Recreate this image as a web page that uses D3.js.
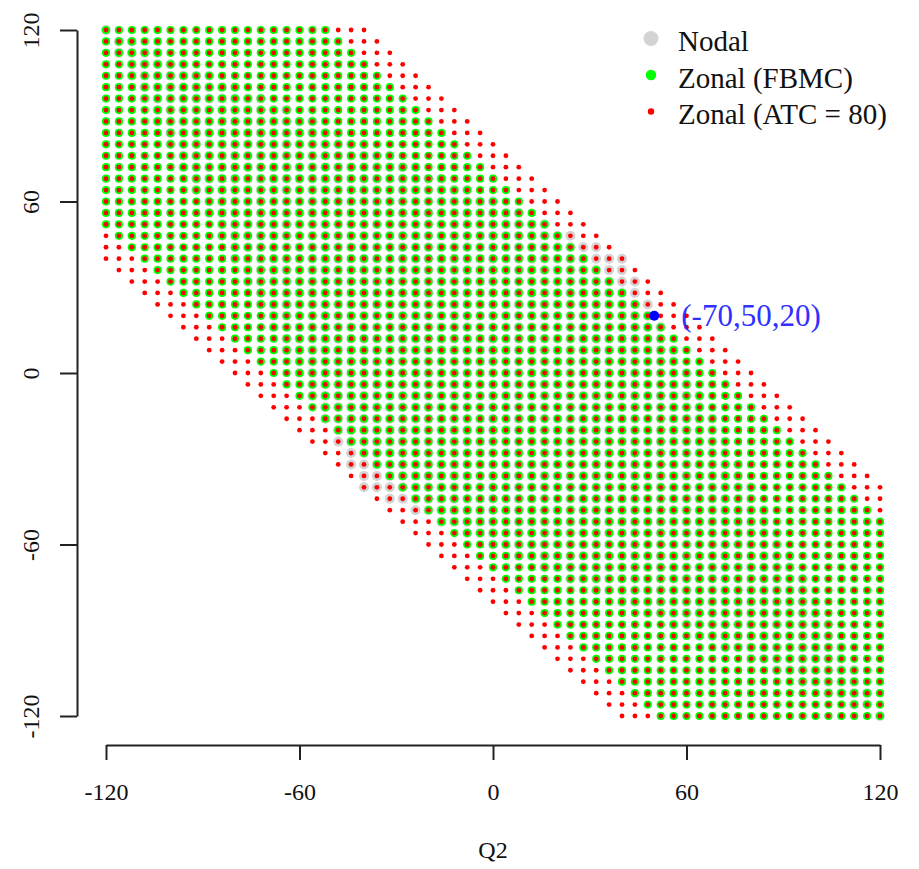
<!DOCTYPE html>
<html>
<head>
<meta charset="utf-8">
<script src="https://cdn.jsdelivr.net/npm/d3@7"></script>
<style>
  html, body { margin: 0; padding: 0; background: #fff; }
  svg { display: block; }
  text { font-family: "Liberation Serif", "Times New Roman", serif; }
</style>
</head>
<body>
<svg id="chart" width="919" height="869"></svg>
<script>
// ---- data ----
// sampled injections (MW) at node 2 (x) and node 3 (y); Q1 = -(Q2+Q3)
const gridQ2 = [-120,-116,-112,-108,-104,-100,-96,-92,-88,-84,-80,-76,-72,-68,-64,-60,-56,-52,-48,-44,-40,-36,-32,-28,-24,-20,-16,-12,-8,-4,0,4,8,12,16,20,24,28,32,36,40,44,48,52,56,60,64,68,72,76,80,84,88,92,96,100,104,108,112,116,120];
const gridQ3 = [-120,-116,-112,-108,-104,-100,-96,-92,-88,-84,-80,-76,-72,-68,-64,-60,-56,-52,-48,-44,-40,-36,-32,-28,-24,-20,-16,-12,-8,-4,0,4,8,12,16,20,24,28,32,36,40,44,48,52,56,60,64,68,72,76,80,84,88,92,96,100,104,108,112,116,120];
const nodalLineLimit = 40;   // |F12|,|F13| <= 40 with F12=(2Q2+Q3)/3, F13=(Q2+2Q3)/3
const fbmcLimit = 70;        // |Q2+Q3| <= 70
const atcLimit = 80;         // |Q2+Q3| <= 80
const highlightPoint = { q1: -70, q2: 50, q3: 20 };
const legendLabels = ["Nodal", "Zonal (FBMC)", "Zonal (ATC = 80)"];
const xTicks = [-120, -60, 0, 60, 120];
const yTicks = [-120, -60, 0, 60, 120];
const xTitle = "Q2";

// ---- membership ----
const grid = [];
gridQ3.forEach(q3 => gridQ2.forEach(q2 => grid.push({ q2, q3 })));
const nodal = grid.filter(d => Math.abs(2 * d.q2 + d.q3) / 3 <= nodalLineLimit && Math.abs(d.q2 + 2 * d.q3) / 3 <= nodalLineLimit);
const fbmc = grid.filter(d => Math.abs(d.q2 + d.q3) <= fbmcLimit);
const atc = grid.filter(d => Math.abs(d.q2 + d.q3) <= atcLimit);

// ---- drawing ----
const svg = d3.select("#chart");
const x = d3.scaleLinear().domain([-120, 120]).range([106, 880]);
const y = d3.scaleLinear().domain([-120, 120]).range([716, 30]);

const colors = { nodal: "#d3d3d3", fbmc: "#00ff00", atc: "#ff0000", hi: "#0000ff" };

svg.append("g").selectAll("circle").data(nodal).join("circle")
  .attr("cx", d => x(d.q2)).attr("cy", d => y(d.q3)).attr("r", 5).attr("fill", colors.nodal);
svg.append("g").selectAll("circle").data(fbmc).join("circle")
  .attr("cx", d => x(d.q2)).attr("cy", d => y(d.q3)).attr("r", 4.1).attr("fill", colors.fbmc);
svg.append("g").selectAll("circle").data(atc).join("circle")
  .attr("cx", d => x(d.q2)).attr("cy", d => y(d.q3)).attr("r", 2.4).attr("fill", colors.atc);

svg.append("circle")
  .attr("cx", x(highlightPoint.q2)).attr("cy", y(highlightPoint.q3)).attr("r", 5).attr("fill", colors.hi);
svg.append("text")
  .attr("x", x(highlightPoint.q2) + 27).attr("y", y(highlightPoint.q3))
  .attr("dominant-baseline", "central")
  .attr("font-size", 31).attr("fill", "#3030ff")
  .text(`(${highlightPoint.q1},${highlightPoint.q2},${highlightPoint.q3})`);

// axes
const fmt = d => String(d);
const xAxis = svg.append("g").attr("transform", "translate(0,745)")
  .call(d3.axisBottom(x).tickValues(xTicks).tickSize(15).tickSizeOuter(0).tickFormat(fmt));
const yAxis = svg.append("g").attr("transform", "translate(77,0)")
  .call(d3.axisLeft(y).tickValues(yTicks).tickSize(17).tickSizeOuter(0).tickFormat(fmt));

[xAxis, yAxis].forEach(g => {
  g.select(".domain").attr("stroke", "#222").attr("stroke-width", 2);
  g.selectAll(".tick line").attr("stroke", "#222").attr("stroke-width", 2);
  g.selectAll(".tick text").attr("fill", "#111").attr("font-size", 24)
    .attr("font-family", '"Liberation Serif", "Times New Roman", serif');
});
xAxis.selectAll(".tick text").attr("y", 55).attr("dy", null);
yAxis.selectAll(".tick text")
  .attr("x", null).attr("dy", null)
  .attr("text-anchor", "middle")
  .attr("transform", "translate(-38,0) rotate(-90)");

svg.append("text").attr("x", x(0)).attr("y", 858).attr("text-anchor", "middle")
  .attr("font-size", 24).attr("fill", "#111").text(xTitle);

// legend
const legendRows = [
  { label: legendLabels[0], color: colors.nodal, r: 7.5, sy: 38.5, ty: 41 },
  { label: legendLabels[1], color: colors.fbmc, r: 5.2, sy: 75, ty: 78 },
  { label: legendLabels[2], color: colors.atc, r: 3.2, sy: 111.5, ty: 114 }
];
const lg = svg.append("g");
legendRows.forEach(row => {
  lg.append("circle").attr("cx", 651).attr("cy", row.sy).attr("r", row.r).attr("fill", row.color);
  lg.append("text").attr("x", 678).attr("y", row.ty).attr("dominant-baseline", "central")
    .attr("font-size", 29).attr("fill", "#111").text(row.label);
});
</script>
</body>
</html>
